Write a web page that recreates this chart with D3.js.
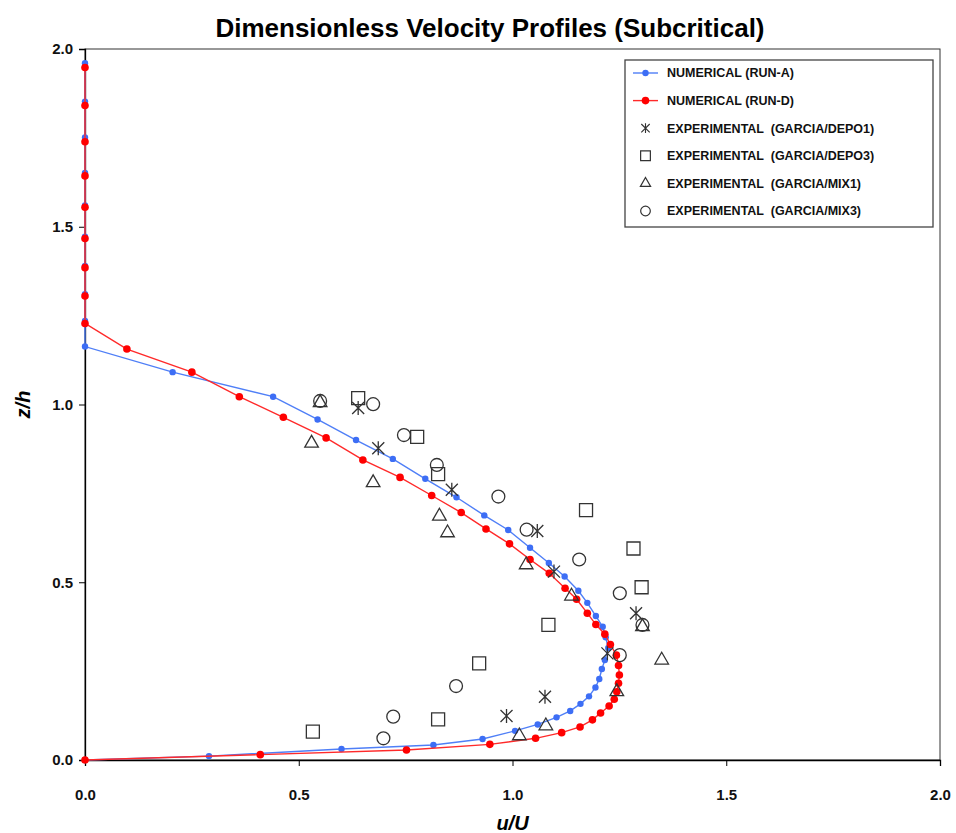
<!DOCTYPE html>
<html>
<head>
<meta charset="utf-8">
<script src="https://cdn.jsdelivr.net/npm/d3@7"></script>
<style>
  body { margin: 0; background: #fff; }
  svg { display: block; font-family: "Liberation Sans", Arial, sans-serif; }
</style>
</head>
<body>
<div id="chart"></div>
<script>
// numerical profiles [u/U, z/h]
const runA = [
  [0, 1.96], [0, 1.852], [0, 1.751], [0, 1.651], [0, 1.56], [0, 1.472], [0, 1.39], [0, 1.31], [0, 1.235], [0, 1.163],
  [0.205, 1.091], [0.440, 1.022], [0.544, 0.958], [0.634, 0.900], [0.720, 0.847], [0.796, 0.791],
  [0.869, 0.739], [0.934, 0.688], [0.990, 0.647], [1.041, 0.597], [1.085, 0.554], [1.122, 0.516],
  [1.154, 0.476], [1.175, 0.442], [1.195, 0.405], [1.211, 0.375], [1.218, 0.345], [1.224, 0.315],
  [1.216, 0.281], [1.209, 0.256], [1.203, 0.228], [1.194, 0.204], [1.179, 0.179], [1.159, 0.158],
  [1.135, 0.138], [1.103, 0.120], [1.059, 0.100], [1.006, 0.082], [0.930, 0.059], [0.815, 0.042],
  [0.600, 0.031], [0.290, 0.011], [0, 0]
];
const runD = [
  [0, 1.948], [0, 1.841], [0, 1.739], [0, 1.643], [0, 1.555], [0, 1.467], [0, 1.385], [0, 1.305], [0, 1.228],
  [0.098, 1.156], [0.250, 1.091], [0.361, 1.022], [0.464, 0.964], [0.564, 0.906], [0.650, 0.844],
  [0.737, 0.795], [0.811, 0.744], [0.880, 0.696], [0.938, 0.650], [0.993, 0.608], [1.041, 0.564],
  [1.086, 0.525], [1.123, 0.483], [1.150, 0.452], [1.175, 0.413], [1.195, 0.381], [1.216, 0.354],
  [1.229, 0.325], [1.243, 0.295], [1.248, 0.266], [1.250, 0.239], [1.248, 0.216], [1.244, 0.192],
  [1.238, 0.171], [1.226, 0.152], [1.206, 0.132], [1.187, 0.113], [1.158, 0.093], [1.115, 0.077],
  [1.054, 0.061], [0.947, 0.044], [0.752, 0.028], [0.410, 0.015], [0, 0]
];

// experimental data (Garcia)
const depo1 = [[0.639, 0.990], [0.686, 0.877], [0.858, 0.760], [1.058, 0.644], [1.097, 0.530],
  [1.289, 0.413], [1.222, 0.300], [1.076, 0.178], [0.986, 0.124]];
const depo3 = [[0.639, 1.018], [0.777, 0.909], [0.826, 0.804], [1.172, 0.703], [1.283, 0.595],
  [1.302, 0.486], [1.084, 0.380], [0.922, 0.272], [0.826, 0.114], [0.533, 0.080]];
const mix1 = [[0.550, 1.005], [0.530, 0.891], [0.674, 0.780], [0.829, 0.686], [0.848, 0.639],
  [1.032, 0.549], [1.138, 0.461], [1.304, 0.375], [1.349, 0.281], [1.244, 0.192], [1.078, 0.096], [1.016, 0.068]];
const mix3 = [[0.550, 1.010], [0.674, 1.001], [0.746, 0.914], [0.823, 0.830], [0.967, 0.741],
  [1.033, 0.648], [1.156, 0.564], [1.251, 0.469], [1.304, 0.380], [1.251, 0.295], [0.868, 0.208],
  [0.721, 0.122], [0.698, 0.061]];

const ticks = [0, 0.5, 1.0, 1.5, 2.0];
const legendLabels = ["NUMERICAL (RUN-A)", "NUMERICAL (RUN-D)", "EXPERIMENTAL  (GARCIA/DEPO1)",
  "EXPERIMENTAL  (GARCIA/DEPO3)", "EXPERIMENTAL  (GARCIA/MIX1)", "EXPERIMENTAL  (GARCIA/MIX3)"];

const width = 956, height = 833;
const margin = { top: 49, right: 16, bottom: 73, left: 85 };

const svg = d3.select("#chart").append("svg")
  .attr("width", width).attr("height", height);

const x = d3.scaleLinear().domain([0, 2]).range([margin.left, width - margin.right]);
const y = d3.scaleLinear().domain([0, 2]).range([height - margin.bottom, margin.top]);

// frame
svg.append("rect")
  .attr("x", x(0)).attr("y", y(2))
  .attr("width", x(2) - x(0)).attr("height", y(0) - y(2))
  .attr("fill", "none").attr("stroke", "#333").attr("stroke-width", 1);

// axes
const xAxis = svg.append("g")
  .attr("transform", `translate(0,${y(0)})`)
  .call(d3.axisBottom(x).tickValues(ticks).tickFormat(d3.format(".1f")).tickSize(6).tickPadding(23));
const yAxis = svg.append("g")
  .attr("transform", `translate(${x(0)},0)`)
  .call(d3.axisLeft(y).tickValues(ticks).tickFormat(d3.format(".1f")).tickSize(6).tickPadding(6));
[xAxis, yAxis].forEach(g => {
  g.select(".domain").attr("stroke", "#000").attr("stroke-width", 1.3);
  g.selectAll(".tick line").attr("stroke", "#000");
  g.selectAll(".tick text")
    .attr("fill", "#111").style("font-size", "15px").style("font-weight", "bold");
});

// title and axis labels
svg.append("text")
  .attr("x", 490).attr("y", 37)
  .attr("text-anchor", "middle")
  .style("font-size", "26px").style("font-weight", "bold")
  .text("Dimensionless Velocity Profiles (Subcritical)");

svg.append("text")
  .attr("x", x(1)).attr("y", 830)
  .attr("text-anchor", "middle")
  .style("font-size", "20px").style("font-weight", "bold").style("font-style", "italic")
  .text("u/U");

svg.append("text")
  .attr("transform", `translate(30,${y(1)}) rotate(-90)`)
  .attr("text-anchor", "middle")
  .style("font-size", "20px").style("font-weight", "bold").style("font-style", "italic")
  .text("z/h");

// numerical series
const line = d3.line().x(d => x(d[0])).y(d => y(d[1]));
const numSeries = [
  { data: runA, line: "#4f7ff7", dot: "#3d6ef5", r: 3.2 },
  { data: runD, line: "#ff2a2a", dot: "#ff0000", r: 3.8 }
];
numSeries.forEach(s => {
  svg.append("path").datum(s.data)
    .attr("d", line).attr("fill", "none")
    .attr("stroke", s.line).attr("stroke-width", 1.4);
  svg.append("g").selectAll("circle").data(s.data).join("circle")
    .attr("cx", d => x(d[0])).attr("cy", d => y(d[1]))
    .attr("r", s.r).attr("fill", s.dot);
});

// experimental markers
const asterisk = "M0,-7L0,7M-6,-6L6,6M-6,6L6,-6";
const markerPaths = {
  depo1: asterisk,
  depo3: d3.symbol(d3.symbolSquare, 169)(),
  mix1: d3.symbol(d3.symbolTriangle, 80)(),
  mix3: d3.symbol(d3.symbolCircle, 130)()
};
const expSeries = [
  { data: depo1, key: "depo1" },
  { data: depo3, key: "depo3" },
  { data: mix1, key: "mix1" },
  { data: mix3, key: "mix3" }
];
expSeries.forEach(s => {
  svg.append("g").selectAll("path").data(s.data).join("path")
    .attr("transform", d => `translate(${x(d[0])},${y(d[1])})`)
    .attr("d", markerPaths[s.key])
    .attr("fill", "none").attr("stroke", "#333").attr("stroke-width", 1.3);
});

// legend
const legend = svg.append("g").attr("transform", "translate(625,60)");
legend.append("rect")
  .attr("width", 308).attr("height", 167)
  .attr("fill", "#fff").attr("stroke", "#444").attr("stroke-width", 1.3);

const legendMarks = [
  { type: "num", s: numSeries[0] },
  { type: "num", s: numSeries[1] },
  { type: "exp", key: "depo1", scale: 0.7 },
  { type: "exp", key: "depo3", scale: 0.75 },
  { type: "exp", key: "mix1", scale: 0.75 },
  { type: "exp", key: "mix3", scale: 0.75 }
];
legendMarks.forEach((m, i) => {
  const g = legend.append("g").attr("transform", `translate(0,${13 + i * 27.6})`);
  if (m.type === "num") {
    g.append("line").attr("x1", 8).attr("x2", 33)
      .attr("stroke", m.s.line).attr("stroke-width", 1.4);
    g.append("circle").attr("cx", 20.5).attr("r", m.s.r).attr("fill", m.s.dot);
  } else {
    g.append("path")
      .attr("transform", `translate(20.5,0) scale(${m.scale})`)
      .attr("d", markerPaths[m.key])
      .attr("fill", "none").attr("stroke", "#333").attr("stroke-width", 1.6);
  }
  g.append("text")
    .attr("x", 42).attr("dy", "0.35em")
    .style("font-size", "12.5px").style("font-weight", "bold").style("white-space", "pre")
    .attr("fill", "#111")
    .text(legendLabels[i]);
});
</script>
</body>
</html>
